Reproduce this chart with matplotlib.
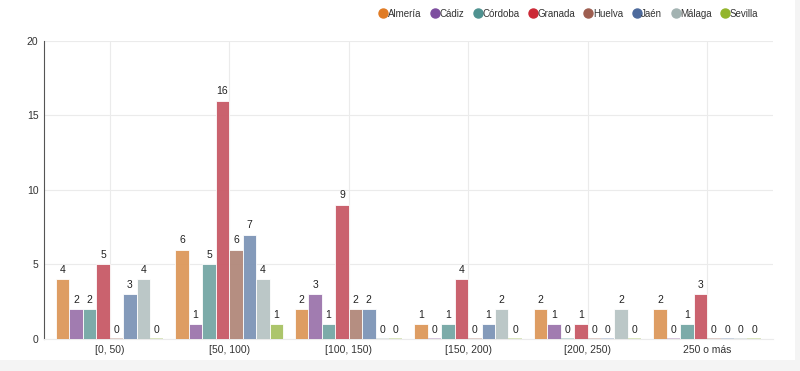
import matplotlib.pyplot as plt
import matplotlib.patches as mpatches
from matplotlib.lines import Line2D
import numpy as np

plt.rcParams["font.family"] = ["Liberation Sans", "DejaVu Sans"]

#categories and series (counts per province)
categories = ["[0, 50)", "[50, 100)", "[100, 150)", "[150, 200)", "[200, 250)", "250 o más"]
series = ["Almería", "Cádiz", "Córdoba", "Granada", "Huelva", "Jaén", "Málaga", "Sevilla"]
almeria = [4, 6, 2, 1, 2, 2]
cadiz = [2, 1, 3, 0, 1, 0]
cordoba = [2, 5, 1, 1, 0, 1]
granada = [5, 16, 9, 4, 1, 3]
huelva = [0, 6, 2, 0, 0, 0]
jaen = [3, 7, 2, 1, 0, 0]
malaga = [4, 4, 0, 2, 2, 0]
sevilla = [0, 1, 0, 0, 0, 0]
values = [almeria, cadiz, cordoba, granada, huelva, jaen, malaga, sevilla]

#legend (solid) colours and the lighter bar fills
colors = ["#e07b24", "#7d4e9f", "#4f9290", "#cc2936", "#9e5e50", "#4d6a9c", "#a3b3b2", "#93b52c"]
bar_colors = ["#dd9a5e", "#9e78ae", "#78a8a6", "#c95d69", "#b38a7d", "#8097b8", "#b9c6c5", "#a9c366"]

fig = plt.figure(figsize=(8, 3.71), dpi=100, facecolor="#f4f4f4")
bg = mpatches.Rectangle((0, 0.03), 0.994, 0.97, transform=fig.transFigure,
                        facecolor="white", edgecolor="none", zorder=-10)
fig.patches.append(bg)
ax = fig.add_axes([0.055, 0.0863, 0.911, 0.8032])
ax.set_facecolor("none")

x = np.arange(len(categories))
n = len(series)
width = 0.9 / n
for i, (name, vals) in enumerate(zip(series, values)):
    pos = x - 0.45 + width * (i + 0.5)
    for p, v in zip(pos, vals):
        if v == 0:
            ax.bar(p, 0.06, width, color=bar_colors[i], alpha=0.4, edgecolor="none", zorder=3)
        else:
            ax.bar(p, v, width, color=bar_colors[i], edgecolor="#ffffff", alpha=0.97,
                   linewidth=0.6, zorder=3)
        ax.text(p, v + 0.3, str(v), ha="center", va="bottom", fontsize=7.5, color="#222222", zorder=4)

ax.set_xlim(-0.55, len(categories) - 0.45)
ax.set_ylim(0, 20)
ax.set_yticks([0, 5, 10, 15, 20])
ax.set_xticks(x)
ax.set_xticklabels(categories)
ax.tick_params(axis="both", length=0, labelsize=7.5, colors="#333333", pad=4)
ax.grid(True, color="#ebebeb", linewidth=0.8, zorder=0)
for s in ["top", "right"]:
    ax.spines[s].set_visible(False)
ax.spines["bottom"].set_color("#ebebeb")
ax.spines["left"].set_color("#555555")
ax.spines["left"].set_linewidth(0.8)

handles = [Line2D([], [], marker="o", linestyle="none", markersize=6.5, color=c) for c in colors]
leg = fig.legend(handles, series, loc="center", bbox_to_anchor=(0.711, 0.963), ncol=8, frameon=False,
                 fontsize=7, handletextpad=0.05, columnspacing=1.0, handlelength=0.8)
for t in leg.get_texts():
    t.set_color("#333333")

plt.savefig("out.png", dpi=100, facecolor=fig.get_facecolor())
